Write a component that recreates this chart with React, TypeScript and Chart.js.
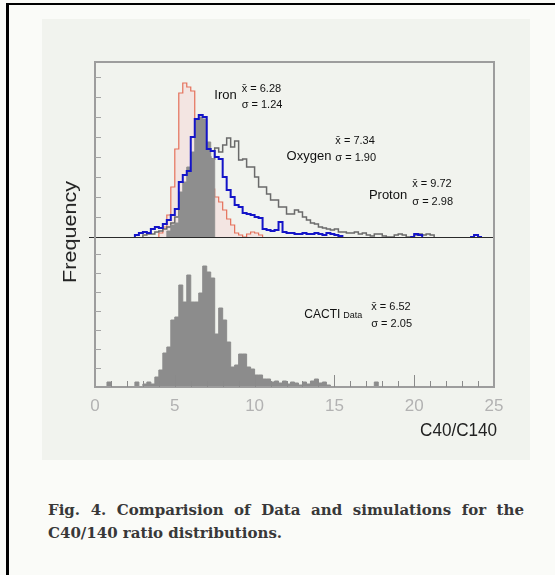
import React, { useEffect, useRef } from "react";
import { Chart, registerables } from "chart.js";

Chart.register(...registerables);

// ---------- data ----------
const BIN = 0.25;

// Upper panel simulations (frequency, arbitrary units)
const ironStart = 4.0;
const ironValues = [4, 10, 22, 50, 88, 144, 154, 150, 146, 105, 88, 60, 55, 48, 40, 35, 27, 18, 12, 4, 2, 0, 3, 5, 4, 2];

const oxygenStart = 2.5;
const oxygenValues = [
  2, 4, 5, 4, 8, 10, 9, 13, 17, 22, 28, 55, 62, 66, 100, 118, 122, 120, 88, 86, 80, 78, 60, 47, 40, 32, 30, 24, 23, 22,
  20, 19, 8, 7, 6, 7, 15, 5, 4, 4, 3, 3, 4, 3, 3, 4, 3, 2, 4, 3, 2, 1, 0,
  null, null, null, null, null, null, null, null, null, null, null, null, null, null, null, null,
  0, 3, 2, 0, null, null, null, null, null, null, null, null, null, null, null, 0, 2, 0,
];

const protonStart = 3.0;
const protonValues = [
  2, 3, 3, 5, 6, 8, 10, 14, 20, 28, 36, 45, 55, 62, 70, 75, 80, 78, 89, 85, 92, 99, 90, 96, 77, 78, 70, 70, 60, 50,
  50, 43, 37, 37, 30, 30, 23, 23, 27, 25, 20, 17, 14, 13, 10, 9, 8, 7, 8, 5, 5, 4, 4, 5, 3, 4, 2, 1, 3, 3,
  1, 0, 0, 2, 3, 2, 0, 0, 2, 3, 2, 3, 2,
];

const overlayStart = 4.5;
const overlayValues = [6, 12, 14, 45, 55, 70, 85, 118, 120, 118, 95, 78];

// Lower panel: CACTI data
const cactiStart = 0.5;
const cactiValues = [
  0, 5, 0, 0, 0, 0, 0, 0, 5, 0, 3, 5, 3, 10, 17, 34, 40, 67, 70, 102, 85, 112, 85, 85, 94, 121, 115, 109, 53, 79,
  67, 45, 20, 22, 33, 33, 20, 18, 12, 12, 8, 8, 5, 6, 4, 6, 3, 5, 4, 2, 5, 3, 6, 8, 4, 5, 2, 0, 0, 0,
  0, 0, 0, 0, 0, 0, 0, 0, 5,
];

// axis ticks
const xTickStep = 5;
const topTickValues = [20, 40, 60, 80, 100, 120, 140, 160];
const botTickValues = [19, 38, 57, 76, 95, 114, 133];
const xMinorTicks = [1, 2, 3, 4, 6, 7, 8, 9, 11, 12, 13, 14, 16, 17, 18, 19, 21, 22, 23, 24];
const xMajorTicks = [5, 10, 15, 20];

// statistics boxes
const statNames = ["Iron", "Oxygen", "Proton", "CACTI"];
const statSub = ["", "", "", "Data"];
const statMeans = ["6.28", "7.34", "9.72", "6.52"];
const statSigmas = ["1.24", "1.90", "2.98", "2.05"];
const statAxis = ["yTop", "yTop", "yTop", "yBot"];
// placement in data coordinates: [nameRightX, nameY, statX, meanY, sigmaY]
const statPlace = [
  [8.88, 142, 9.19, 148, 132],
  [14.81, 81, 15.06, 96, 79],
  [19.56, 42, 19.88, 53, 35],
  [16.75, 72, 17.31, 80, 63],
];
const statNameSize = [13, 13, 13, 12];

// ---------- helpers ----------
function histPoints(start: number, values: (number | null)[]) {
  const pts: { x: number; y: number | null }[] = [{ x: start, y: 0 }];
  values.forEach((v, i) => pts.push({ x: start + i * BIN, y: v }));
  pts.push({ x: start + values.length * BIN, y: 0 });
  return pts;
}

const FONT = '"Liberation Sans", Arial, sans-serif';

const decorPlugin = {
  id: "decor",
  beforeDatasetsDraw(chart: any) {
    const { ctx, chartArea } = chart;
    const yTop = chart.scales.yTop;
    const y0 = Math.round(yTop.getPixelForValue(0)) + 0.5;
    ctx.save();
    ctx.strokeStyle = "#2a2a2a";
    ctx.lineWidth = 1;
    ctx.beginPath();
    ctx.moveTo(chartArea.left - 6, y0);
    ctx.lineTo(chartArea.right, y0);
    ctx.stroke();
    ctx.restore();
  },
  afterDatasetsDraw(chart: any) {
    const { ctx, chartArea } = chart;
    const { left, right, top, bottom } = chartArea;
    const xs = chart.scales.x;
    const yTop = chart.scales.yTop;
    const yBot = chart.scales.yBot;
    ctx.save();
    // frame
    ctx.strokeStyle = "#9d9d9d";
    ctx.lineWidth = 2;
    ctx.strokeRect(left, top, right - left, bottom - top);
    // left inward ticks
    ctx.lineWidth = 1;
    ctx.strokeStyle = "#a5a5a5";
    ctx.beginPath();
    for (const v of topTickValues) {
      const y = Math.round(yTop.getPixelForValue(v)) + 0.5;
      ctx.moveTo(left, y);
      ctx.lineTo(left + 6, y);
    }
    for (const v of botTickValues) {
      const y = Math.round(yBot.getPixelForValue(v)) + 0.5;
      ctx.moveTo(left, y);
      ctx.lineTo(left + 6, y);
    }
    ctx.stroke();
    // bottom inward ticks
    ctx.strokeStyle = "#8a8a8a";
    ctx.beginPath();
    for (const v of xMinorTicks) {
      const x = Math.round(xs.getPixelForValue(v)) + 0.5;
      ctx.moveTo(x, bottom);
      ctx.lineTo(x, bottom - 6);
    }
    for (const v of xMajorTicks) {
      const x = Math.round(xs.getPixelForValue(v)) + 0.5;
      ctx.moveTo(x, bottom);
      ctx.lineTo(x, bottom - 12);
    }
    ctx.stroke();
    // statistics text
    ctx.fillStyle = "#111";
    ctx.textBaseline = "middle";
    statNames.forEach((name, i) => {
      const ys = chart.scales[statAxis[i]];
      const [nx, ny, sx, my, sy] = statPlace[i];
      let px = xs.getPixelForValue(nx);
      const py = ys.getPixelForValue(ny);
      ctx.textAlign = "right";
      if (statSub[i]) {
        ctx.font = `9px ${FONT}`;
        ctx.fillText(statSub[i], px, py + 1);
        px -= ctx.measureText(statSub[i]).width + 3;
      }
      ctx.font = `${statNameSize[i]}px ${FONT}`;
      ctx.fillText(name, px, py);
      ctx.textAlign = "left";
      ctx.font = `11px ${FONT}`;
      ctx.fillText("x\u0304 = " + statMeans[i], xs.getPixelForValue(sx), ys.getPixelForValue(my));
      ctx.fillText("\u03c3 = " + statSigmas[i], xs.getPixelForValue(sx), ys.getPixelForValue(sy));
    });
    ctx.restore();
  },
};

const captionStyle: any = {
  position: "absolute",
  left: 48,
  font: 'bold 15px "DejaVu Serif", serif',
  lineHeight: "18px",
  color: "#383838",
  whiteSpace: "nowrap",
};

export default function App() {
  const ref = useRef<HTMLCanvasElement>(null);

  useEffect(() => {
    if (!ref.current) return;
    const chart = new Chart(ref.current, {
      type: "line",
      data: {
        datasets: [
          {
            label: "Oxygen",
            data: histPoints(oxygenStart, oxygenValues),
            yAxisID: "yTop",
            stepped: "before",
            borderColor: "#1414c8",
            borderWidth: 2,
            pointRadius: 0,
            fill: false,
            order: 0,
          },
          {
            label: "Data overlay",
            data: histPoints(overlayStart, overlayValues),
            yAxisID: "yTop",
            stepped: "before",
            borderColor: "#8e8e8e",
            backgroundColor: "#8e8e8e",
            borderWidth: 1,
            pointRadius: 0,
            fill: "origin",
            order: 1,
          },
          {
            label: "Proton",
            data: histPoints(protonStart, protonValues),
            yAxisID: "yTop",
            stepped: "before",
            borderColor: "#6a6a6a",
            borderWidth: 1.5,
            pointRadius: 0,
            fill: false,
            order: 2,
          },
          {
            label: "Iron",
            data: histPoints(ironStart, ironValues),
            yAxisID: "yTop",
            stepped: "before",
            borderColor: "#e5705a",
            backgroundColor: "rgba(250,200,200,0.3)",
            borderWidth: 1.2,
            pointRadius: 0,
            fill: "origin",
            order: 3,
          },
          {
            label: "CACTI Data",
            data: histPoints(cactiStart, cactiValues),
            yAxisID: "yBot",
            stepped: "before",
            borderColor: "#8c8c8c",
            backgroundColor: "#8c8c8c",
            borderWidth: 1,
            pointRadius: 0,
            fill: "origin",
            order: 4,
          },
        ],
      },
      options: {
        animation: false,
        responsive: false,
        devicePixelRatio: 1,
        layout: { padding: { top: 62, right: 61, left: 0, bottom: 0 } },
        plugins: { legend: { display: false }, tooltip: { enabled: false } },
        scales: {
          x: {
            type: "linear",
            position: "bottom",
            min: 0,
            max: 25,
            afterFit: (s: any) => {
              s.height = 83;
            },
            grid: { display: false, drawTicks: false },
            border: { display: false },
            ticks: {
              stepSize: xTickStep,
              autoSkip: false,
              maxRotation: 0,
              padding: 9,
              color: "#b2b2b2",
              font: { family: "Liberation Sans", size: 17 },
            },
          },
          yBot: {
            type: "linear",
            position: "left",
            stack: "v",
            stackWeight: 150,
            min: 0,
            max: 150,
            afterFit: (s: any) => {
              s.width = 95;
            },
            grid: { display: false, drawTicks: false },
            border: { display: false },
            ticks: { display: false },
          },
          yTop: {
            type: "linear",
            position: "left",
            stack: "v",
            stackWeight: 175,
            min: 0,
            max: 175,
            afterFit: (s: any) => {
              s.width = 95;
            },
            grid: { display: false, drawTicks: false },
            border: { display: false },
            ticks: { display: false },
          },
        },
      } as any,
      plugins: [decorPlugin],
    } as any);
    return () => chart.destroy();
  }, []);

  return (
    <div
      style={{
        position: "fixed",
        left: 0,
        top: 0,
        width: 555,
        height: 575,
        background: "#fafbf8",
        overflow: "hidden",
      }}
    >
      <div
        style={{
          position: "absolute",
          left: 6,
          top: 3,
          right: 0,
          bottom: 0,
          borderTop: "2px solid #000",
          borderLeft: "3px solid #000",
        }}
      />
      <div style={{ position: "absolute", left: 42, top: 19, width: 488, height: 441, background: "#f1f3ee" }} />
      <canvas ref={ref} width={555} height={470} style={{ position: "absolute", left: 0, top: 0 }} />
      <div
        style={{
          position: "absolute",
          left: 70,
          top: 232,
          transform: "translate(-50%, -50%) rotate(-90deg) scaleX(1.2)",
          font: `18px ${FONT}`,
          color: "#222",
          whiteSpace: "nowrap",
          lineHeight: "20px",
        }}
      >
        Frequency
      </div>
      <div
        style={{
          position: "absolute",
          right: 555 - 497,
          top: 419,
          transform: "scaleX(0.95)",
          transformOrigin: "right center",
          font: `18px ${FONT}`,
          color: "#222",
          whiteSpace: "nowrap",
          lineHeight: "22px",
        }}
      >
        C40/C140
      </div>
      <div style={{ ...captionStyle, top: 501, width: 476, textAlign: "justify", textAlignLast: "justify" }}>
        Fig. 4. Comparision of Data and simulations for the
      </div>
      <div style={{ ...captionStyle, top: 524 }}>C40/140 ratio distributions.</div>
    </div>
  );
}
